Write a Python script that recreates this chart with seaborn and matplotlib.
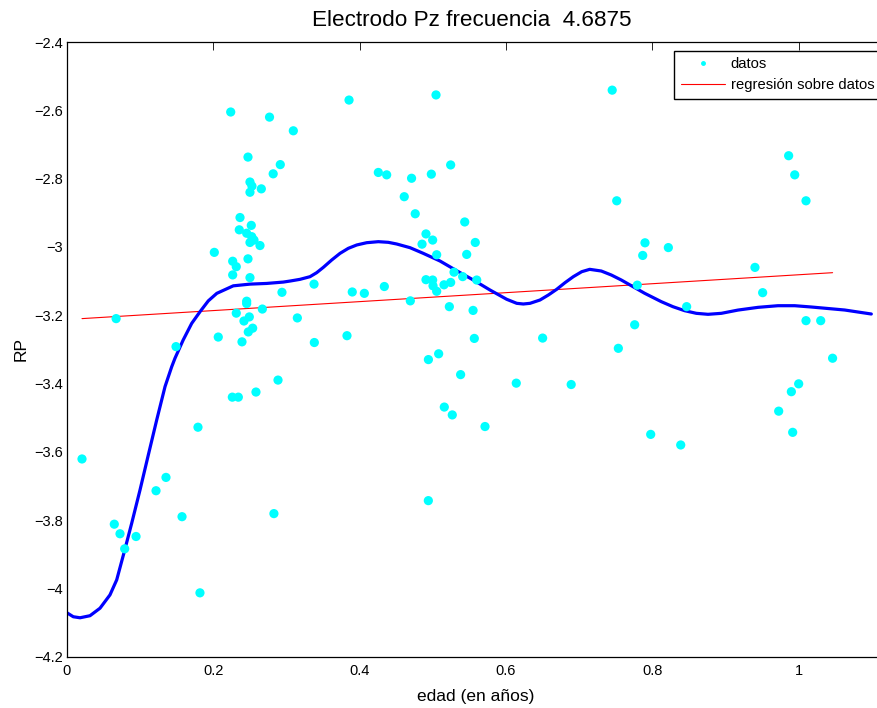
import matplotlib
matplotlib.use("Agg")
import matplotlib.pyplot as plt
from matplotlib.lines import Line2D
import seaborn as sns
import pandas as pd

# ---------------- data ----------------
edad = [0.0675, 0.224, 0.277, 0.3095, 0.2476, 0.2917, 0.282, 0.2503, 0.253, 0.2503,
        0.2658, 0.2367, 0.2521, 0.2357, 0.2458, 0.2527, 0.2558, 0.2503, 0.264, 0.2016,
        0.2476, 0.2267, 0.2316, 0.2267, 0.2503, 0.294, 0.2458, 0.2458, 0.2672, 0.2316,
        0.2494, 0.2421, 0.254, 0.248, 0.315, 0.207, 0.2394, 0.1493, 0.3856, 0.5044,
        0.4256, 0.437, 0.471, 0.498, 0.5244, 0.461, 0.476, 0.5436, 0.4907, 0.4998,
        0.4853, 0.558, 0.5463, 0.5053, 0.529, 0.5408, 0.56, 0.4907, 0.4998, 0.5003,
        0.5053, 0.5153, 0.5244, 0.3378, 0.390, 0.4065, 0.4338, 0.4693, 0.5226, 0.555,
        0.3382, 0.3828, 0.5567, 0.650, 0.508, 0.494, 0.538, 0.614, 0.689, 0.5157,
        0.5266, 0.5713, 0.4939, 0.2886, 0.2585, 0.2262, 0.2344, 0.1793, 0.0209, 0.1356,
        0.122, 0.1575, 0.283, 0.065, 0.0728, 0.0947, 0.0792, 0.182, 0.745, 0.986,
        0.9943, 1.0097, 0.7512, 0.7898, 0.8217, 0.7867, 0.940, 0.9505, 0.7793, 0.8467,
        0.7757, 1.0097, 1.0298, 0.7534, 1.046, 0.9997, 0.9897, 0.9724, 0.9915, 0.7976,
        0.8386]
rp = [-3.210, -2.605, -2.620, -2.660, -2.737, -2.759, -2.786, -2.810, -2.822, -2.840,
      -2.830, -2.914, -2.937, -2.950, -2.960, -2.970, -2.980, -2.987, -2.996, -3.016,
      -3.035, -3.042, -3.058, -3.082, -3.090, -3.133, -3.159, -3.166, -3.182, -3.194,
      -3.205, -3.217, -3.238, -3.249, -3.208, -3.264, -3.278, -3.292, -2.570, -2.555,
      -2.782, -2.789, -2.799, -2.787, -2.760, -2.853, -2.903, -2.927, -2.962, -2.980,
      -2.992, -2.987, -3.022, -3.023, -3.074, -3.087, -3.097, -3.096, -3.097, -3.114,
      -3.130, -3.111, -3.104, -3.109, -3.132, -3.136, -3.116, -3.158, -3.175, -3.186,
      -3.280, -3.260, -3.268, -3.267, -3.313, -3.330, -3.374, -3.399, -3.403, -3.469,
      -3.492, -3.526, -3.743, -3.390, -3.425, -3.440, -3.440, -3.528, -3.621, -3.675,
      -3.714, -3.790, -3.781, -3.812, -3.840, -3.848, -3.884, -4.013, -2.541, -2.733,
      -2.789, -2.865, -2.865, -2.988, -3.002, -3.025, -3.060, -3.134, -3.112, -3.175,
      -3.228, -3.216, -3.216, -3.297, -3.326, -3.401, -3.424, -3.481, -3.543, -3.549,
      -3.580]

# smooth (nonparametric) fit
curva_x = [0.000, 0.009, 0.0182, 0.0318, 0.0455, 0.0591, 0.0683, 0.0792, 0.0888, 0.1001,
           0.1115, 0.1229, 0.1343, 0.1434, 0.1479, 0.159, 0.1707, 0.182, 0.1934, 0.205,
           0.2275, 0.2503, 0.273, 0.2958, 0.3050, 0.3186, 0.3323, 0.3414, 0.3505, 0.3619,
           0.3733, 0.3846, 0.3961, 0.4097, 0.4256, 0.4392, 0.4507, 0.4689, 0.4870, 0.5098,
           0.5326, 0.5553, 0.5781, 0.6009, 0.6146, 0.6236, 0.6328, 0.6464, 0.6578, 0.6692,
           0.6806, 0.6919, 0.7034, 0.7143, 0.7301, 0.7438, 0.7574, 0.7711, 0.7894, 0.8121,
           0.8280, 0.8440, 0.8599, 0.8759, 0.8941, 0.9168, 0.9442, 0.9714, 0.9943, 1.0170,
           1.0625, 1.0989]
curva_y = [-4.071, -4.083, -4.086, -4.080, -4.058, -4.019, -3.975, -3.888, -3.809, -3.712,
           -3.609, -3.507, -3.409, -3.351, -3.326, -3.273, -3.224, -3.190, -3.158, -3.136,
           -3.114, -3.109, -3.107, -3.103, -3.1000, -3.0950, -3.0872, -3.0755, -3.0599, -3.0384,
           -3.0189, -3.0042, -2.9944, -2.9877, -2.9847, -2.9866, -2.9915, -3.0023, -3.0189, -3.0413,
           -3.0697, -3.0969, -3.1262, -3.1534, -3.1652, -3.1672, -3.1652, -3.1555, -3.1409, -3.1242,
           -3.1047, -3.0872, -3.0726, -3.0657, -3.0706, -3.0823, -3.0969, -3.1136, -3.1359, -3.1604,
           -3.1751, -3.1868, -3.1945, -3.1974, -3.1945, -3.1850, -3.1770, -3.1722, -3.1722, -3.1760,
           -3.1848, -3.1965]

# linear regression line endpoints
reg_x = [0.0209, 1.046]
reg_y = [-3.210, -3.0755]

xticks = [0, 0.2, 0.4, 0.6, 0.8, 1]
xticklabels = ["0", "0.2", "0.4", "0.6", "0.8", "1"]
yticks = [-2.4, -2.6, -2.8, -3.0, -3.2, -3.4, -3.6, -3.8, -4.0, -4.2]
yticklabels = ["\u22122.4", "\u22122.6", "\u22122.8", "\u22123", "\u22123.2", "\u22123.4",
               "\u22123.6", "\u22123.8", "\u22124", "\u22124.2"]

titulo = "Electrodo Pz frecuencia  4.6875"
etiqueta_x = "edad (en años)"
etiqueta_y = "RP"
leyenda = ["datos", "regresión sobre datos"]

# ---------------- figure ----------------
sns.set_style("white")
plt.rcParams["font.family"] = ["Liberation Sans", "DejaVu Sans"]
plt.rcParams["text.color"] = "black"
plt.rcParams["axes.labelcolor"] = "black"

W, H = 878, 708
fig = plt.figure(figsize=(W / 100, H / 100), dpi=100)

left_px, right_px, top_px, bottom_px = 66.7, 890.0, 42.0, 656.7
ax = fig.add_axes([left_px / W, 1 - bottom_px / H,
                   (right_px - left_px) / W, (bottom_px - top_px) / H])

px_per_unit = 732.2
ax.set_xlim(0, (right_px - left_px) / px_per_unit)
ax.set_ylim(-4.2, -2.4)

df_pts = pd.DataFrame({"edad": edad, "rp": rp})
df_curva = pd.DataFrame({"x": curva_x, "y": curva_y})
df_reg = pd.DataFrame({"x": reg_x, "y": reg_y})

sns.lineplot(data=df_reg, x="x", y="y", ax=ax, color="#ff0000", linewidth=0.8,
             estimator=None, sort=False, zorder=2)
sns.lineplot(data=df_curva, x="x", y="y", ax=ax, color="#0000ff", linewidth=2.3,
             estimator=None, sort=False, zorder=2.5)
sns.scatterplot(data=df_pts, x="edad", y="rp", ax=ax, color="#00ffff", s=44,
                edgecolor="none", linewidth=0, zorder=3, legend=False)

ax.set_xticks(xticks)
ax.set_xticklabels(xticklabels)
ax.set_yticks(yticks)
ax.set_yticklabels(yticklabels)
ax.tick_params(axis="both", direction="in", top=True, right=True, labelsize=10.5,
               colors="black", width=0.6)
ax.tick_params(axis="x", length=6, pad=5)
ax.tick_params(axis="y", length=5.5, pad=2.5)
for side in ["left", "bottom", "top", "right"]:
    ax.spines[side].set_visible(True)
    ax.spines[side].set_color("black")
    ax.spines[side].set_linewidth(0.9)

ax.set_xlabel(etiqueta_x, fontsize=12.5, va="baseline", color="black")
ax.xaxis.set_label_coords((476 - left_px) / (right_px - left_px),
                          -(700.5 - bottom_px) / (bottom_px - top_px))
ax.set_ylabel(etiqueta_y, fontsize=12.5, va="baseline", color="black")
ax.yaxis.set_label_coords((25.5 - left_px) / (right_px - left_px), 0.5)

ax.set_title(titulo, fontsize=16.2, va="baseline", pad=0, color="black",
             x=(471.7 - left_px) / (right_px - left_px),
             y=(bottom_px - 25.5) / (bottom_px - top_px))

handles = [Line2D([], [], linestyle="none", marker="o", markersize=2.5,
                  markerfacecolor="#00ffff", markeredgecolor="#00ffff"),
           Line2D([], [], color="#ff0000", linewidth=0.8)]
leg = ax.legend(handles, leyenda, loc="upper left",
                bbox_to_anchor=(674 / W, 1 - 50.7 / H), bbox_transform=fig.transFigure,
                fontsize=10.6, frameon=True, fancybox=False, framealpha=1,
                borderpad=0.45, handlelength=3.0, handletextpad=0.4,
                labelspacing=0.45, borderaxespad=0, numpoints=1)
leg.get_frame().set_edgecolor("black")
leg.get_frame().set_linewidth(1.0)
for t in leg.get_texts():
    t.set_color("black")

fig.savefig("out.png", dpi=100)
